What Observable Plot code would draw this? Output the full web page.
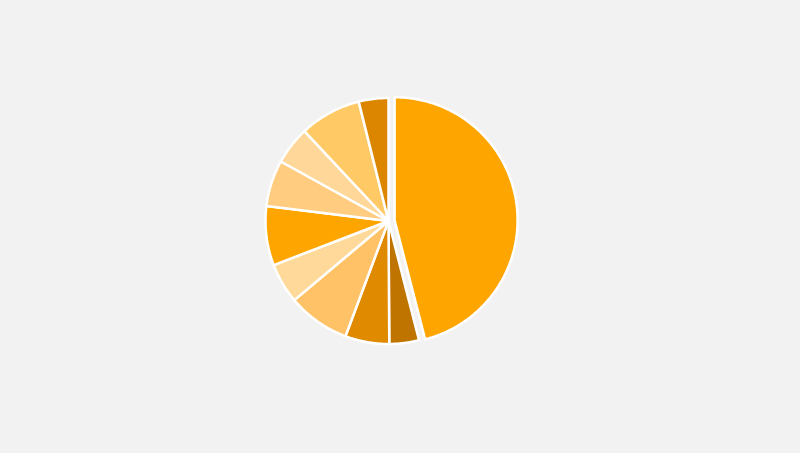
<!DOCTYPE html>
<html>
<head>
<meta charset="utf-8">
<script src="https://cdn.jsdelivr.net/npm/d3@7"></script>
<script src="https://cdn.jsdelivr.net/npm/@observablehq/plot@0.6"></script>
<style>
  html, body { margin: 0; padding: 0; background: #f2f2f2; }
  #chart svg { display: block; background: #f2f2f2; }
</style>
</head>
<body>
<div id="chart"></div>
<script>
// Data (clockwise from 12 o'clock)
const categories = ["Slice 1","Slice 2","Slice 3","Slice 4","Slice 5","Slice 6","Slice 7","Slice 8","Slice 9","Slice 10"];
const values = [46.1, 3.9, 5.8, 8.2, 5.3, 7.8, 6.1, 5.0, 8.1, 3.9];
const colors = ["#ffa500","#c07400","#e08a00","#ffc266","#ffd99a","#ffa500","#ffcc80","#ffd899","#ffc966","#dc8600"];
const explodedCategory = "Slice 1";

const W = 800, H = 453;
const cx = 388, cy = 220.5, R = 123;   // pixel layout of the pie
const explodeOffset = 0.05;            // in radius units

const arcs = d3.pie().sort(null).value(d => d)(values);
const rows = [];
arcs.forEach((a, i) => {
  const cat = categories[i];
  const mid = (a.startAngle + a.endAngle) / 2;
  const off = cat === explodedCategory ? explodeOffset : 0;
  const ox = off * Math.sin(mid), oy = off * Math.cos(mid);
  const n = Math.max(2, Math.ceil((a.endAngle - a.startAngle) / 0.01));
  rows.push({cat, x: ox, y: oy});
  for (let k = 0; k <= n; k++) {
    const t = a.startAngle + (a.endAngle - a.startAngle) * k / n;
    rows.push({cat, x: ox + Math.sin(t), y: oy + Math.cos(t)});
  }
  rows.push({cat, x: ox, y: oy});
});

const chart = Plot.plot({
  width: W,
  height: H,
  margin: 0,
  style: {background: "#f2f2f2"},
  x: {domain: [-cx / R, (W - cx) / R], range: [0, W], axis: null},
  y: {domain: [-(H - cy) / R, cy / R], range: [H, 0], axis: null},
  color: {domain: categories, range: colors},
  marks: [
    Plot.line(rows, {
      x: "x", y: "y", z: "cat",
      fill: "cat",
      stroke: "white",
      strokeWidth: 2.5,
      strokeLinejoin: "round",
      curve: "linear"
    })
  ]
});
document.getElementById("chart").appendChild(chart);
</script>
</body>
</html>
